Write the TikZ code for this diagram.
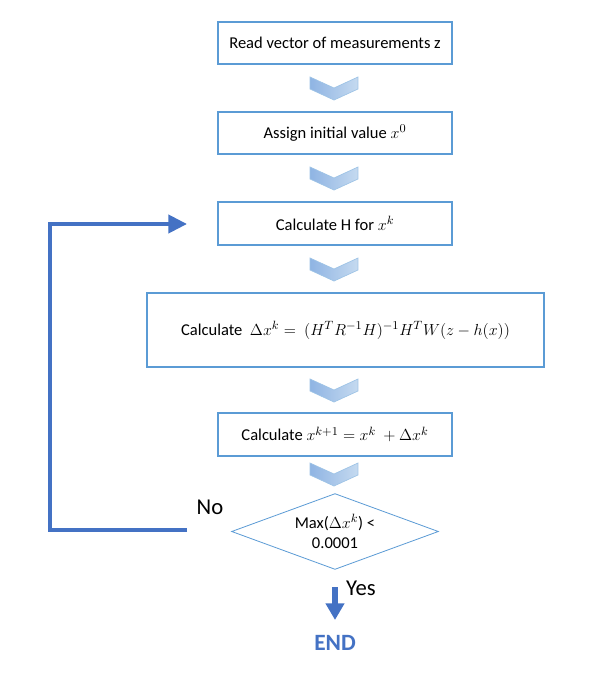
\documentclass[tikz,border=0pt]{standalone}
\usepackage{fontspec}
\setmainfont{Carlito}
\usetikzlibrary{shapes.geometric,arrows.meta}
\definecolor{boxblue}{HTML}{5B9BD5}
\definecolor{lineblue}{HTML}{4472C4}
\definecolor{chevdark}{HTML}{8FB4E3}
\definecolor{chevlight}{HTML}{C5DAF0}
\definecolor{chevedge}{HTML}{9DC3E6}
\tikzset{
  stepbox/.style={draw=boxblue, line width=0.8pt, rectangle, inner sep=0pt, font=\fontsize{12.4}{15}\selectfont},
  chev/.style={left color=chevdark, right color=chevlight, draw=chevedge, line width=0.5pt},
  loopline/.style={draw=lineblue, line width=3pt},
}
\newcommand{\chevron}[2]{%
  \path[chev] (#1-24,#2) -- (#1,#2+11) -- (#1+24,#2) -- (#1+24,#2+12) -- (#1,#2+23) -- (#1-24,#2+12) -- cycle;}
\begin{document}
\begin{tikzpicture}[x=0.75pt,y=-0.75pt]
\path[use as bounding box, fill=white] (0,0) rectangle (599,685);
\node[stepbox, minimum width=234*0.75pt, minimum height=42*0.75pt] (b1) at (335,43) {Read vector of measurements z};
\node[stepbox, minimum width=234*0.75pt, minimum height=42*0.75pt] (b2) at (335,133) {Assign initial value $x^0$};
\node[stepbox, minimum width=234*0.75pt, minimum height=43*0.75pt] (b3) at (335,223.5) {Calculate H for $x^k$};
\node[stepbox, minimum width=397*0.75pt, minimum height=74*0.75pt] (b4) at (345.5,330) {Calculate \ $\Delta x^k =\ (H^TR^{-1}H)^{-1}H^TW(z-h(x))$};
\node[stepbox, minimum width=234*0.75pt, minimum height=43*0.75pt] (b5) at (335,434.5) {Calculate $x^{k+1} = x^k\ + \Delta x^k$};
\node[rectangle, inner sep=0pt, minimum width=206*0.75pt, minimum height=75*0.75pt, align=center, font=\fontsize{12.4}{15}\selectfont] (d) at (335,531.5) {Max($\Delta x^k$) <\\0.0001};
\draw[draw=boxblue, line width=0.6pt] (d.north) -- (d.east) -- (d.south) -- (d.west) -- cycle;
\chevron{334}{77}
\chevron{334}{167}
\chevron{334}{258}
\chevron{334}{379}
\chevron{334}{463}
\coordinate (noend) at (187,530);
\coordinate (corner) at (50,530);
\coordinate (loopin) at (187,224);
\draw[loopline, -{Triangle[length=14pt, width=13.5pt]}] (noend) -- (corner) |- (loopin);
\node[font=\fontsize{17}{20}\selectfont] (no) at (210,507) {No};
\coordinate (ystart) at (335,587);
\coordinate (yend) at (335,620);
\draw[draw=lineblue, line width=4.5pt, -{Triangle[length=12.5pt, width=13.5pt]}] (ystart) -- (yend);
\node[font=\fontsize{17}{20}\selectfont] (yes) at (361,588) {Yes};
\node[font=\bfseries\fontsize{17.5}{20}\selectfont, text=lineblue] (end) at (335,643) {END};
\end{tikzpicture}
\end{document}
